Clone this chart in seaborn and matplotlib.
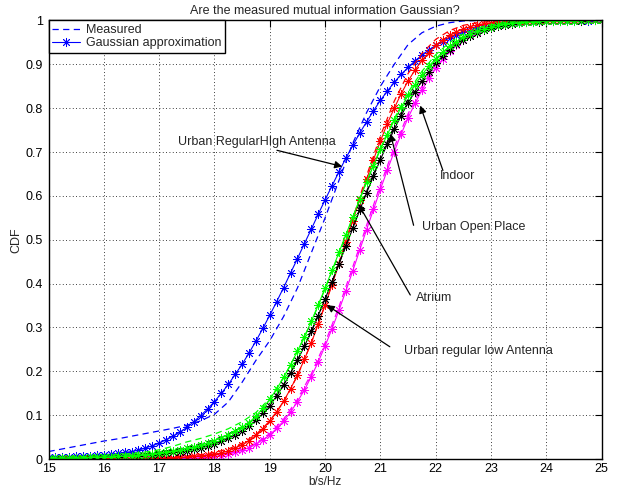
import numpy as np
import pandas as pd
import matplotlib
matplotlib.use('Agg')
import matplotlib.pyplot as plt
import seaborn as sns
from matplotlib.lines import Line2D

# x grids (b/s/Hz)
x_fit = np.linspace(15, 25, 81)
x_meas = np.linspace(15, 25, 41)

# Gaussian approximation CDFs (one row per integer b/s/Hz)
blue_fit = [0.004, 0.004, 0.005, 0.005, 0.006, 0.007, 0.008, 0.009,
            0.010, 0.011, 0.013, 0.015, 0.017, 0.020, 0.025, 0.030,
            0.036, 0.044, 0.052, 0.061, 0.072, 0.085, 0.099, 0.114,
            0.131, 0.150, 0.170, 0.193, 0.216, 0.242, 0.269, 0.298,
            0.328, 0.359, 0.391, 0.424, 0.457, 0.491, 0.524, 0.558,
            0.591, 0.623, 0.655, 0.686, 0.715, 0.743, 0.769, 0.794,
            0.818, 0.839, 0.859, 0.877, 0.893, 0.908, 0.921, 0.933,
            0.943, 0.952, 0.960, 0.967, 0.973, 0.977, 0.982, 0.985,
            0.988, 0.990, 0.992, 0.994, 0.995, 0.996, 0.997, 0.998,
            0.998, 0.998, 0.999, 0.999, 0.999, 0.999, 0.999, 1.000,
            1.000]
green_fit = [0.002, 0.002, 0.002, 0.003, 0.003, 0.003, 0.004, 0.004,
             0.005, 0.005, 0.006, 0.007, 0.008, 0.009, 0.010, 0.012,
             0.014, 0.016, 0.018, 0.021, 0.024, 0.027, 0.031, 0.036,
             0.042, 0.048, 0.055, 0.063, 0.072, 0.083, 0.098, 0.116,
             0.136, 0.160, 0.186, 0.215, 0.246, 0.279, 0.314, 0.351,
             0.390, 0.430, 0.471, 0.511, 0.552, 0.592, 0.632, 0.669,
             0.706, 0.740, 0.772, 0.802, 0.829, 0.854, 0.876, 0.896,
             0.913, 0.928, 0.941, 0.952, 0.962, 0.970, 0.976, 0.981,
             0.985, 0.989, 0.992, 0.994, 0.995, 0.996, 0.997, 0.998,
             0.998, 0.999, 0.999, 0.999, 0.999, 1.000, 1.000, 1.000,
             1.000]
black_fit = [0.001, 0.001, 0.002, 0.002, 0.002, 0.003, 0.003, 0.003,
             0.004, 0.004, 0.005, 0.006, 0.007, 0.008, 0.009, 0.010,
             0.012, 0.013, 0.015, 0.017, 0.019, 0.022, 0.025, 0.029,
             0.034, 0.040, 0.047, 0.055, 0.065, 0.076, 0.088, 0.104,
             0.122, 0.144, 0.169, 0.196, 0.225, 0.257, 0.291, 0.327,
             0.365, 0.404, 0.445, 0.485, 0.526, 0.567, 0.607, 0.645,
             0.683, 0.718, 0.752, 0.783, 0.812, 0.838, 0.862, 0.883,
             0.902, 0.919, 0.933, 0.946, 0.956, 0.965, 0.972, 0.978,
             0.983, 0.987, 0.990, 0.992, 0.994, 0.996, 0.997, 0.997,
             0.998, 0.998, 0.999, 0.999, 0.999, 0.999, 1.000, 1.000,
             1.000]
red_fit = [0.000, 0.000, 0.000, 0.000, 0.000, 0.001, 0.001, 0.001,
           0.001, 0.001, 0.001, 0.001, 0.001, 0.001, 0.002, 0.002,
           0.002, 0.003, 0.003, 0.004, 0.005, 0.006, 0.007, 0.009,
           0.011, 0.014, 0.018, 0.025, 0.032, 0.042, 0.054, 0.069,
           0.087, 0.108, 0.132, 0.160, 0.191, 0.227, 0.265, 0.307,
           0.351, 0.397, 0.445, 0.494, 0.543, 0.591, 0.638, 0.683,
           0.725, 0.765, 0.800, 0.833, 0.862, 0.887, 0.909, 0.927,
           0.943, 0.956, 0.966, 0.974, 0.981, 0.986, 0.990, 0.993,
           0.995, 0.996, 0.997, 0.998, 0.999, 0.999, 0.999, 1.000,
           1.000, 1.000, 1.000, 1.000, 1.000, 1.000, 1.000, 1.000,
           1.000]
magenta_fit = [0.000, 0.000, 0.000, 0.000, 0.000, 0.000, 0.000, 0.000,
               0.000, 0.001, 0.001, 0.001, 0.001, 0.001, 0.001, 0.001,
               0.001, 0.001, 0.001, 0.002, 0.002, 0.002, 0.003, 0.004,
               0.006, 0.008, 0.011, 0.015, 0.020, 0.026, 0.034, 0.044,
               0.055, 0.070, 0.087, 0.107, 0.131, 0.157, 0.188, 0.221,
               0.258, 0.297, 0.339, 0.383, 0.429, 0.476, 0.523, 0.569,
               0.615, 0.659, 0.701, 0.741, 0.778, 0.811, 0.841, 0.868,
               0.892, 0.912, 0.930, 0.944, 0.956, 0.966, 0.974, 0.980,
               0.985, 0.989, 0.992, 0.994, 0.996, 0.997, 0.998, 0.998,
               0.999, 0.999, 0.999, 1.000, 1.000, 1.000, 1.000, 1.000,
               1.000]

# measured CDFs (every 0.25 b/s/Hz)
blue_meas = [0.017, 0.023, 0.029, 0.035, 0.041, 0.046, 0.052, 0.058,
             0.064, 0.070, 0.077, 0.087, 0.102, 0.130, 0.175, 0.225,
             0.270, 0.325, 0.390, 0.470, 0.550, 0.635, 0.720, 0.790,
             0.850, 0.900, 0.945, 0.972, 0.987, 0.995, 0.999, 1.000,
             1.000, 1.000, 1.000, 1.000, 1.000, 1.000, 1.000, 1.000, 1.000]
green_meas = [0.003, 0.004, 0.005, 0.006, 0.008, 0.010, 0.012, 0.016,
              0.021, 0.029, 0.039, 0.047, 0.057, 0.069, 0.085, 0.106,
              0.138, 0.186, 0.244, 0.312, 0.388, 0.468, 0.550, 0.632,
              0.708, 0.776, 0.836, 0.884, 0.922, 0.950, 0.969, 0.982,
              0.990, 0.995, 0.998, 0.999, 1.000, 1.000, 1.000, 1.000, 1.000]
black_meas = [0.001, 0.002, 0.003, 0.004, 0.005, 0.007, 0.009, 0.012,
              0.016, 0.021, 0.027, 0.035, 0.044, 0.057, 0.073, 0.095,
              0.126, 0.170, 0.225, 0.290, 0.364, 0.445, 0.528, 0.610,
              0.688, 0.759, 0.820, 0.871, 0.911, 0.941, 0.962, 0.977,
              0.987, 0.993, 0.996, 0.998, 0.999, 1.000, 1.000, 1.000, 1.000]
red_meas = [0.000, 0.000, 0.001, 0.001, 0.001, 0.002, 0.002, 0.003,
            0.004, 0.005, 0.007, 0.010, 0.015, 0.023, 0.036, 0.056,
            0.086, 0.130, 0.190, 0.265, 0.352, 0.448, 0.548, 0.646,
            0.737, 0.816, 0.879, 0.925, 0.957, 0.977, 0.989, 0.995,
            0.998, 0.999, 1.000, 1.000, 1.000, 1.000, 1.000, 1.000, 1.000]
magenta_meas = [0.000, 0.000, 0.000, 0.000, 0.001, 0.001, 0.001, 0.002,
                0.002, 0.003, 0.004, 0.005, 0.008, 0.013, 0.022, 0.036,
                0.058, 0.091, 0.136, 0.194, 0.265, 0.347, 0.438, 0.533,
                0.625, 0.711, 0.787, 0.850, 0.900, 0.937, 0.963, 0.980,
                0.990, 0.995, 0.998, 0.999, 1.000, 1.000, 1.000, 1.000, 1.000]

# scenario labels for the arrows
labels = ["Urban RegularHIgh Antenna", "Indoor", "Urban Open Place",
          "Atrium", "Urban regular low Antenna"]

sns.set_style("white")
plt.rcParams['font.family'] = ['Liberation Sans', 'DejaVu Sans']

fig = plt.figure(figsize=(6.19, 4.88), dpi=100)
ax = fig.add_axes([0.0784, 0.0594, 0.8936, 0.8986])

curves = [("blue", blue_meas, blue_fit),
          ("magenta", magenta_meas, magenta_fit),
          ("red", red_meas, red_fit),
          ("black", black_meas, black_fit),
          ("#00ff00", green_meas, green_fit)]
star = (8, 2, 0)
for color, meas, fit in curves:
    sns.lineplot(x=x_meas, y=meas, color=color, lw=0.9,
                 linestyle=(0, (5, 3.5)), ax=ax, estimator=None)
    sns.lineplot(x=x_fit, y=fit, color=color, lw=0.8, marker=star,
                 markersize=6.5, markeredgewidth=0.6, markeredgecolor=color,
                 ax=ax, estimator=None)

ax.set_xlim(15, 25)
ax.set_ylim(0, 1)
ax.set_xticks(range(15, 26))
yt = [i / 10 for i in range(11)]
ax.set_yticks(yt)
ax.set_yticklabels(['0'] + ['%.1f' % v for v in yt[1:-1]] + ['1'])
ax.tick_params(direction='in', top=True, right=True, length=5, width=0.8,
               labelsize=9, colors='black')
ax.tick_params(axis='x', pad=3)
ax.tick_params(axis='y', pad=4)
ax.grid(True, linestyle=(0, (1, 3)), color='black', lw=0.6)
for sp in ax.spines.values():
    sp.set_color('black')
    sp.set_linewidth(1.0)

ax.set_title("Are the measured mutual information Gaussian?", fontsize=9, pad=5)
ax.set_xlabel("b/s/Hz", fontsize=8.5, labelpad=0.5)
ax.set_ylabel("CDF", fontsize=9, labelpad=2)

# arrows: (text position, arrow tail, arrow tip) in data coords
text_pos = [(17.34, 0.724), (22.08, 0.645), (21.76, 0.528),
            (21.64, 0.367), (21.43, 0.247)]
tails = [(19.13, 0.704), (22.13, 0.658), (21.60, 0.533),
         (21.54, 0.374), (21.17, 0.256)]
tips = [(20.31, 0.667), (21.72, 0.806), (21.18, 0.742),
        (20.60, 0.582), (20.03, 0.351)]
for lab, tp, tl, tip in zip(labels, text_pos, tails, tips):
    ax.annotate('', xy=tip, xytext=tl,
                arrowprops=dict(arrowstyle='-|>', color='black', lw=0.9,
                                mutation_scale=11, shrinkA=0, shrinkB=0))
    ax.text(tp[0], tp[1], lab, fontsize=9, ha='left', va='center')

handles = [Line2D([], [], color='blue', lw=0.9, linestyle=(0, (5, 3.5))),
           Line2D([], [], color='blue', lw=0.8, marker=star, markersize=6.5,
                  markeredgewidth=0.6)]
leg = ax.legend(handles, ["Measured", "Gaussian approximation"], loc='upper left',
                borderaxespad=0, fontsize=9, fancybox=False, framealpha=1,
                edgecolor='black', handlelength=2.2, borderpad=0.3,
                labelspacing=0.1, handletextpad=0.5)
leg.get_frame().set_linewidth(1.0)

fig.savefig("out.png", dpi=100)
